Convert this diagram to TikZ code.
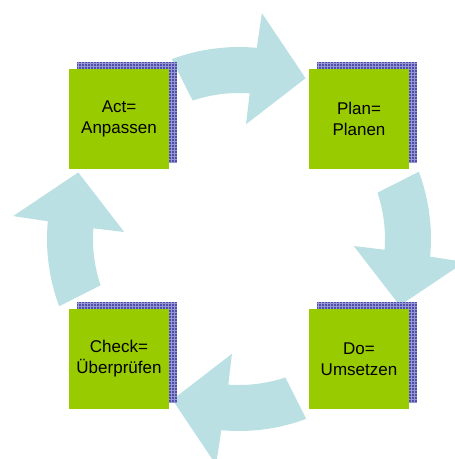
\documentclass[tikz,border=0pt]{standalone}
\usepackage{fontspec}
\setmainfont{Liberation Sans}
\usepackage{tikz}
\usetikzlibrary{positioning,calc,patterns,shadows}
\definecolor{green}{RGB}{153,204,0}
\definecolor{cyan}{RGB}{187,224,227}
\definecolor{blue}{RGB}{78,78,172}
\definecolor{lightblue}{RGB}{150,150,212}
\colorlet{boxcol}{green}
\colorlet{cyclecol}{cyan}
\colorlet{shadowcol}{blue}
\tikzset{phase/.style={rectangle,fill=boxcol,minimum width=100pt,minimum height=100pt,inner sep=0pt,align=center,font=\fontsize{17}{21}\selectfont,
    general shadow={fill=shadowcol,shadow xshift=8pt,shadow yshift=7pt},
    general shadow={pattern=grid,pattern color=lightblue,shadow xshift=8pt,shadow yshift=7pt}}}

\begin{document}
\begin{tikzpicture}
    \useasboundingbox (-239pt,-220pt) rectangle (216pt,239pt);
    \clip (-239pt,-220pt) rectangle (216pt,239pt);
    \coordinate (c) at (0,0);
    % curved arrows of the cycle
    \foreach \a in {0,90,180,270}
        \fill[cyclecol,shift={(c)},rotate=\a] (20.5:192pt) arc (20.5:-5.3:192pt) -- (-5.8:227pt) -- (-22.5:174pt) -- (-3.5:115pt) -- (-4.2:146pt) arc (-4.2:18.5:146pt) -- cycle;
    % the four phases
    \node[phase] (act) at (-120pt,120pt) {Act=\\Anpassen};
    \node[phase] (plan) at (120pt,120pt) {Plan=\\Planen};
    \node[phase] (do) at (120pt,-120pt) {Do=\\Umsetzen};
    \node[phase] (check) at (-120pt,-120pt) {Check=\\Überprüfen};
\end{tikzpicture}
\end{document}
